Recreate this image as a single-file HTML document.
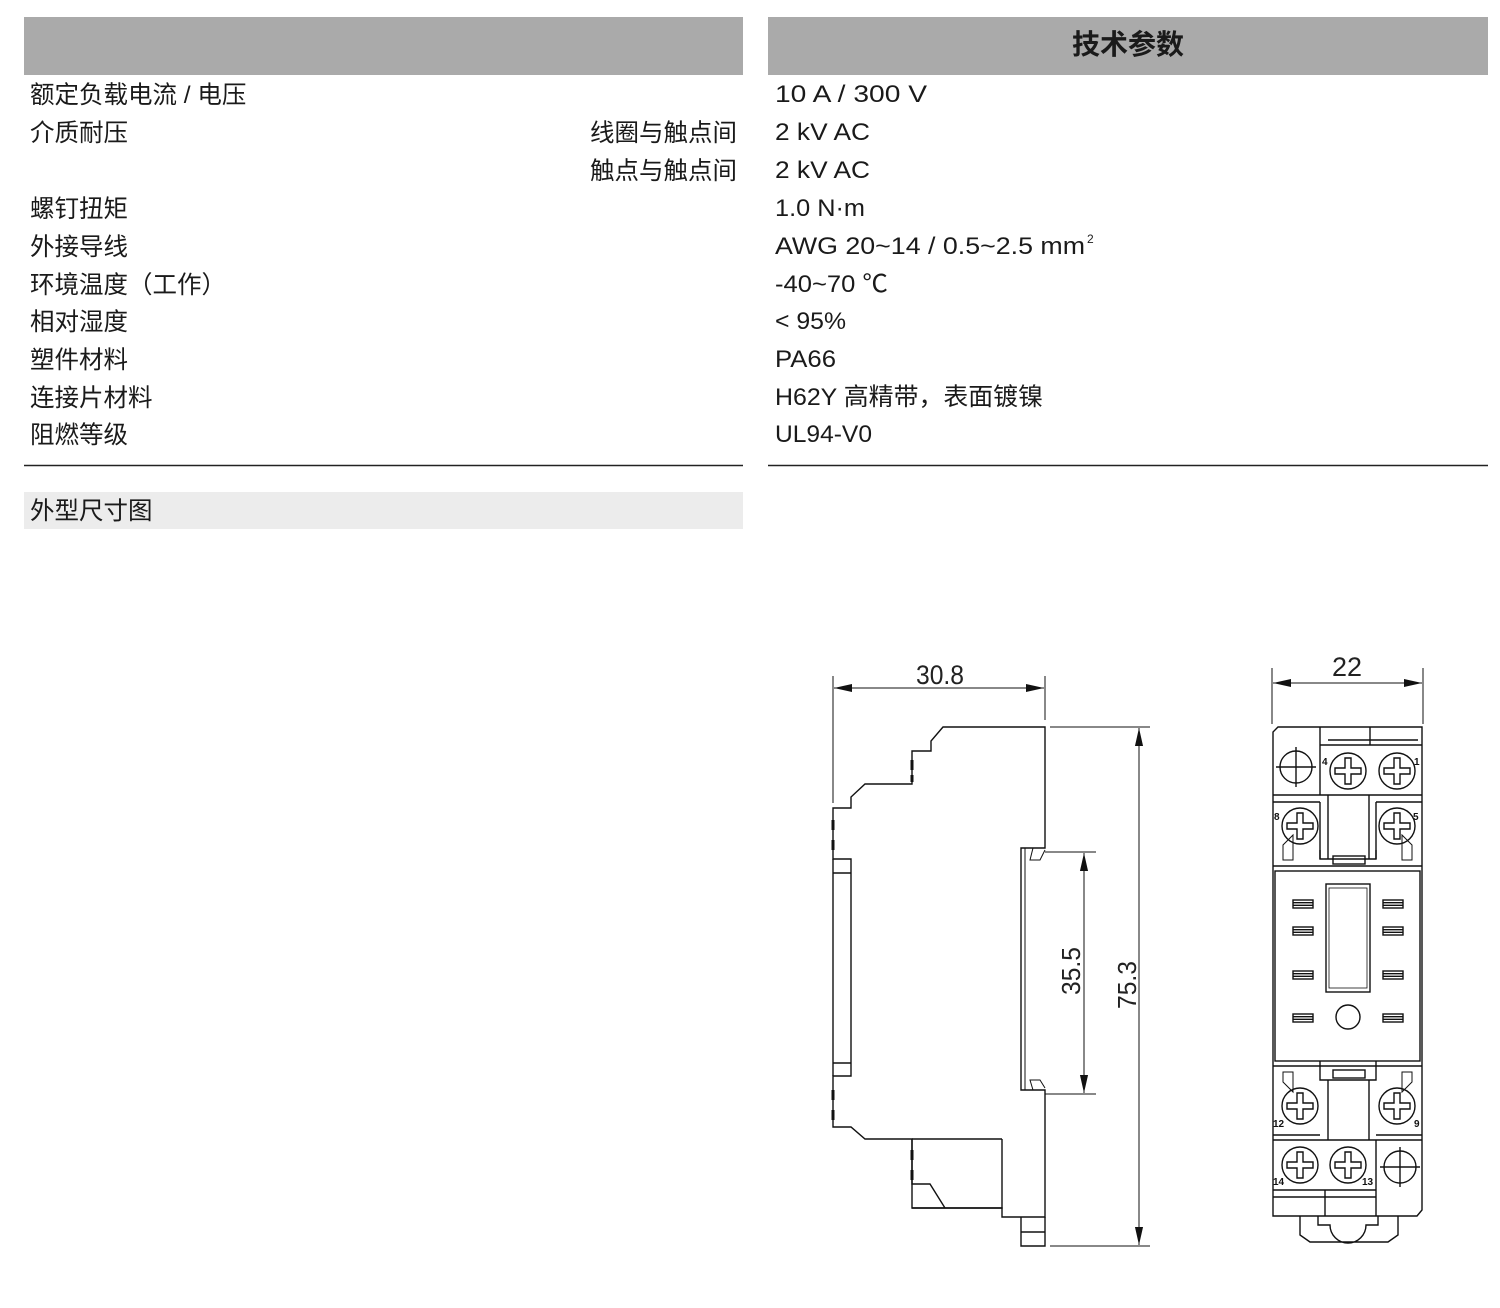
<!DOCTYPE html>
<html><head><meta charset="utf-8"><style>
html,body{margin:0;padding:0;background:#fff;}
svg{display:block;}
.t{font-family:"Liberation Sans","Noto Sans CJK SC",sans-serif;font-size:24.5px;fill:#1a1a1a;}
.d{font-family:"Liberation Sans",sans-serif;font-size:26px;fill:#222;}
.l{fill:none;stroke:#111;stroke-width:1.4;}
.n{font-family:"Liberation Sans",sans-serif;font-size:10px;font-weight:bold;fill:#111;}
</style></head><body>
<svg width="1500" height="1308" viewBox="0 0 1500 1308" xmlns="http://www.w3.org/2000/svg">
<defs>
<marker id="a" viewBox="0 0 10 10" refX="10" refY="5" markerWidth="18" markerHeight="9" orient="auto-start-reverse" markerUnits="userSpaceOnUse" preserveAspectRatio="none"><path d="M0,0.5 L10,5 L0,9.5 Z" fill="#111"/></marker>
<g id="sc"><circle r="18" class="l"/><path d="M-3,-13 H3 V-3 H13 V3 H3 V13 H-3 V3 H-13 V-3 H-3 Z" class="l" stroke-width="1.2"/></g>
<g id="pc"><circle r="16" class="l"/><path d="M0,-20 V20 M-20,0 H20" class="l" stroke-width="1.2"/></g>
<g id="bar"><rect x="-10" y="-4" width="20" height="8" class="l" stroke-width="1.2"/><path d="M-10,-1.3 H10 M-10,1.3 H10" class="l" stroke-width="0.8"/></g>
</defs>
<rect x="24" y="17" width="719" height="58" fill="#aaaaaa"/>
<rect x="768" y="17" width="720" height="58" fill="#aaaaaa"/>
<text x="1128" y="54" text-anchor="middle" class="t" style="font-size:28px;font-weight:bold">技术参数</text>
<g class="t">
<text x="30" y="103">额定负载电流 / 电压</text>
<text x="30" y="141">介质耐压</text>
<text x="737" y="141" text-anchor="end">线圈与触点间</text>
<text x="737" y="179" text-anchor="end">触点与触点间</text>
<text x="30" y="217">螺钉扭矩</text>
<text x="30" y="255">外接导线</text>
<text x="30" y="293">环境温度（工作）</text>
<text x="30" y="330">相对湿度</text>
<text x="30" y="368">塑件材料</text>
<text x="30" y="406">连接片材料</text>
<text x="30" y="443">阻燃等级</text>
<text x="775" y="102" textLength="152" lengthAdjust="spacingAndGlyphs">10 A / 300 V</text>
<text x="775" y="140" textLength="95" lengthAdjust="spacingAndGlyphs">2 kV AC</text>
<text x="775" y="178" textLength="95" lengthAdjust="spacingAndGlyphs">2 kV AC</text>
<text x="775" y="216" textLength="90" lengthAdjust="spacingAndGlyphs">1.0 N·m</text>
<text x="775" y="254" textLength="310" lengthAdjust="spacingAndGlyphs">AWG 20~14 / 0.5~2.5 mm</text>
<text x="1087" y="243" style="font-size:12px">2</text>
<text x="775" y="292" textLength="113" lengthAdjust="spacingAndGlyphs">-40~70 ℃</text>
<text x="775" y="329" textLength="71" lengthAdjust="spacingAndGlyphs">&lt; 95%</text>
<text x="775" y="367" textLength="61" lengthAdjust="spacingAndGlyphs">PA66</text>
<text x="775" y="405" textLength="268" lengthAdjust="spacingAndGlyphs">H62Y 高精带，表面镀镍</text>
<text x="775" y="442" textLength="97" lengthAdjust="spacingAndGlyphs">UL94-V0</text>
</g>
<line x1="24" y1="465.5" x2="743" y2="465.5" stroke="#222" stroke-width="1.5"/>
<line x1="768" y1="465.5" x2="1488" y2="465.5" stroke="#222" stroke-width="1.5"/>
<rect x="24" y="492" width="719" height="37" fill="#ececec"/>
<text x="30" y="519" class="t">外型尺寸图</text>

<g class="l">
<line x1="833" y1="676" x2="833" y2="803" stroke-width="1"/>
<line x1="1045" y1="676" x2="1045" y2="720" stroke-width="1"/>
<line x1="834" y1="688" x2="1044" y2="688" stroke-width="1" marker-start="url(#a)" marker-end="url(#a)"/>
<path d="M1045,727 H943 L931,741 V751 H912 V784 H865 L851,797 V808 H833 V859 H851 V1076 H833 V1127 H851 L865,1139 H912 V1208 H1002 V1217 H1045 V1090 H1021 V848 H1045 Z"/>
<path d="M833,859 V1076 M851,873 H833 M851,1063 H833"/>
<path d="M912,1139 V1184 H930 L945,1208 M1002,1139 V1208 H912 M912,1139 H1002"/>
<path d="M1021,1217 V1246 H1045 V1217 M1021,1232 H1045"/>
<path d="M1025,848 V1090 M1033,848 L1030,860 H1040 L1045,850 M1033,1090 L1030,1080 H1040 L1045,1088" stroke-width="1"/>
<path d="M912,760 V770 M912,775 V782 M833,820 V830 M833,840 V850 M833,1090 V1100 M833,1110 V1120 M912,1150 V1160 M912,1170 V1180" stroke-width="3"/>
<line x1="1045" y1="852" x2="1096" y2="852" stroke-width="1"/>
<line x1="1045" y1="1094" x2="1096" y2="1094" stroke-width="1"/>
<line x1="1084" y1="853" x2="1084" y2="1093" stroke-width="1" marker-start="url(#a)" marker-end="url(#a)"/>
<line x1="1050" y1="727" x2="1150" y2="727" stroke-width="1"/>
<line x1="1050" y1="1246" x2="1150" y2="1246" stroke-width="1"/>
<line x1="1139" y1="728" x2="1139" y2="1245" stroke-width="1" marker-start="url(#a)" marker-end="url(#a)"/>
</g>
<text x="940" y="684" text-anchor="middle" class="d" style="font-size:27px" textLength="48" lengthAdjust="spacingAndGlyphs">30.8</text>
<text transform="translate(1080,971) rotate(-90)" text-anchor="middle" class="d" textLength="48" lengthAdjust="spacingAndGlyphs">35.5</text>
<text transform="translate(1136,985) rotate(-90)" text-anchor="middle" class="d" textLength="48" lengthAdjust="spacingAndGlyphs">75.3</text>
<text x="1347" y="676" text-anchor="middle" class="d" style="font-size:27px" textLength="30" lengthAdjust="spacingAndGlyphs">22</text>

<g class="l">
<line x1="1272" y1="668" x2="1272" y2="724" stroke-width="1"/>
<line x1="1423" y1="668" x2="1423" y2="724" stroke-width="1"/>
<line x1="1273" y1="683" x2="1422" y2="683" stroke-width="1" marker-start="url(#a)" marker-end="url(#a)"/>
<path d="M1278,727 H1422 V1210 L1417,1216 H1273 V732 Z"/>
<path d="M1320,727 V795 M1370,727 V745 M1328,745 H1418 M1328,740 H1418 M1320,745 H1422 M1273,795 H1422 M1273,802 H1320 M1376,802 H1422"/>
<path d="M1328,795 V859 M1369,795 V859 M1320,850 V859 M1376,850 V859 M1273,866 H1422"/>
<path d="M1320,802 V859 H1376 V802"/>
<rect x="1333" y="856" width="32" height="8"/>
<rect x="1275" y="871" width="145" height="190"/>
<rect x="1326" y="884" width="44" height="108"/>
<rect x="1329" y="888" width="38" height="100" stroke-width="0.8"/>
<circle cx="1348" cy="1017" r="12"/>
<path d="M1273,1066 H1422 M1320,1061 V1080 H1376 V1061 M1328,1080 V1140 M1369,1080 V1140 M1273,1140 H1422 M1273,1135 H1320 M1376,1135 H1422 M1376,1140 V1216 M1273,1190 H1376 M1273,1197 H1376 M1325,1190 V1216"/>
<rect x="1333" y="1070" width="32" height="8"/>
<path d="M1300,1216 V1235 L1310,1242 H1388 L1398,1235 V1216 M1318,1216 V1225 H1330 A18,18 0 0 0 1366,1225 H1378 V1216"/>
<path d="M1283,845 L1293,835 V860 H1283 Z M1412,845 L1402,835 V860 H1412 Z M1283,1082 L1293,1092 V1072 H1283 Z M1412,1082 L1402,1092 V1072 H1412 Z" stroke-width="1"/>
</g>
<use href="#sc" x="1348" y="771"/><use href="#sc" x="1397" y="771"/>
<use href="#sc" x="1300" y="826"/><use href="#sc" x="1397" y="826"/>
<use href="#sc" x="1300" y="1106"/><use href="#sc" x="1397" y="1106"/>
<use href="#sc" x="1300" y="1165"/><use href="#sc" x="1348" y="1165"/>
<use href="#pc" x="1296" y="767"/><use href="#pc" x="1400" y="1167"/>
<use href="#bar" x="1303" y="904"/><use href="#bar" x="1393" y="904"/>
<use href="#bar" x="1303" y="931"/><use href="#bar" x="1393" y="931"/>
<use href="#bar" x="1303" y="975"/><use href="#bar" x="1393" y="975"/>
<use href="#bar" x="1303" y="1018"/><use href="#bar" x="1393" y="1018"/>
<g class="n">
<text x="1322" y="765">4</text><text x="1414" y="765">1</text>
<text x="1274" y="820">8</text><text x="1413" y="820">5</text>
<text x="1273" y="1127">12</text><text x="1414" y="1127">9</text>
<text x="1273" y="1185">14</text><text x="1362" y="1185">13</text>
</g>
</svg>
</body></html>
